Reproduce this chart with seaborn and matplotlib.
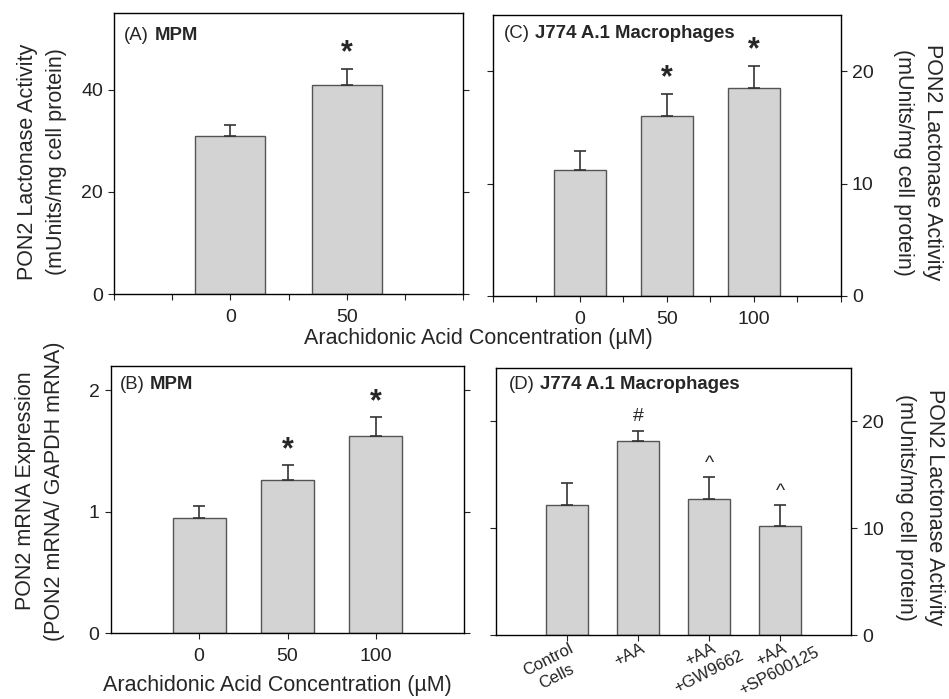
import matplotlib
matplotlib.use("Agg")
import matplotlib.pyplot as plt
import matplotlib.transforms as mtrans
import seaborn as sns
import numpy as np
import pandas as pd

# ---- data ----
a_labels = ["0", "50"]
a_values = [31.0, 41.0]
a_err = [2.0, 3.1]
a_marks = ["", "*"]

c_labels = ["0", "50", "100"]
c_values = [11.2, 16.0, 18.5]
c_err = [1.7, 2.0, 2.0]
c_marks = ["", "*", "*"]

b_labels = ["0", "50", "100"]
b_values = [0.95, 1.26, 1.62]
b_err = [0.095, 0.12, 0.16]
b_marks = ["", "*", "*"]

d_labels = ["Control\nCells", "+AA", "+AA\n+GW9662", "+AA\n+SP600125"]
d_values = [12.2, 18.1, 12.75, 10.15]
d_err = [2.0, 1.0, 2.0, 2.0]
d_marks = ["", "#", "^", "^"]

sns.set_style("ticks")
plt.rcParams["font.family"] = ["Liberation Sans", "DejaVu Sans"]
plt.rcParams["axes.linewidth"] = 1.0
plt.rcParams["xtick.major.size"] = 4.5
plt.rcParams["ytick.major.size"] = 4.5
plt.rcParams["xtick.color"] = "#222222"
plt.rcParams["ytick.color"] = "#222222"

W, H = 949, 699
DPI = 100
fig = plt.figure(figsize=(W / DPI, H / DPI), dpi=DPI)

def frac(l, t, r, b):
    return [l / W, 1 - b / H, (r - l) / W, (b - t) / H]

BAR = "#d3d3d3"
EDGE = "#555555"
ERR = "#333333"
TICK_FS = 14
LAB_FS = 15.5
TITLE_FS = 13.4

def panel(rect, labels, values, errs, marks, ylim, yticks, xlim, xticks, ticklabels,
          letter, name, title_off, side):
    ax = fig.add_axes(rect)
    df = pd.DataFrame({"cat": labels, "val": values})
    sns.barplot(data=df, x="cat", y="val", order=labels, ax=ax, color=BAR,
                edgecolor=EDGE, linewidth=1.0, width=0.6, saturation=1)
    x = np.arange(len(labels))
    ax.errorbar(x, values, yerr=[np.zeros(len(errs)), errs], fmt="none",
                ecolor=ERR, elinewidth=1.2, capsize=4.5, capthick=1.2)
    for xi, v, e, m in zip(x, values, errs, marks):
        if m:
            top = v + e
            if m == "*":
                ax.annotate(m, (xi, top), xytext=(0, 0), textcoords="offset points",
                            ha="center", va="bottom", fontsize=22, fontweight="bold")
            else:
                ax.annotate(m, (xi, top), xytext=(0, 4), textcoords="offset points",
                            ha="center", va="bottom", fontsize=14)
    ax.set_xlim(*xlim)
    ax.set_ylim(*ylim)
    ax.set_yticks(yticks)
    ax.set_xticks(xticks)
    ax.set_xticklabels(ticklabels, fontsize=TICK_FS)
    ax.set_yticklabels([str(t) for t in yticks], fontsize=TICK_FS)
    ax.set_xlabel("")
    ax.set_ylabel("")
    for s in ax.spines.values():
        s.set_visible(True)
        s.set_color("black")
    if side == "left":
        ax.tick_params(axis="y", left=True, right=True, labelleft=True, labelright=False,
                       direction="out")
    else:
        ax.tick_params(axis="y", left=True, right=True, labelleft=False, labelright=True,
                       direction="out")
    ax.tick_params(axis="x", direction="out", pad=6)
    t = ax.annotate(f"({letter})", xy=(0, 1), xycoords="axes fraction",
                    xytext=(title_off[0], -title_off[1]), textcoords="offset pixels",
                    ha="left", va="center", fontsize=TITLE_FS)
    ax.annotate(name, xy=(1, 0.5), xycoords=t, xytext=(4, 0), textcoords="offset points",
                ha="left", va="center", fontsize=TITLE_FS, fontweight="bold")
    return ax

axA = panel(frac(114, 13, 463, 294), a_labels, a_values, a_err, a_marks,
            (0, 55), [0, 20, 40], (-1, 2), [-1, -0.5, 0, 0.5, 1, 1.5, 2],
            ["", "", "0", "", "50", "", ""], "A", "MPM", (10, 23), "left")

axC = panel(frac(492.7, 15, 840.7, 296), c_labels, c_values, c_err, c_marks,
            (0, 25), [0, 10, 20], (-1, 3), [-1, -0.5, 0, 0.5, 1, 1.5, 2, 2.5, 3],
            ["", "", "0", "", "50", "", "100", "", ""], "C", "J774 A.1 Macrophages",
            (11, 18), "right")

axB = panel(frac(110.7, 365.7, 464.3, 633.3), b_labels, b_values, b_err, b_marks,
            (0, 2.2), [0, 1, 2], (-1, 3), [0, 1, 2],
            ["0", "50", "100"], "B", "MPM", (9, 19), "left")

axD = panel(frac(496, 367.7, 851, 635), d_labels, d_values, d_err, d_marks,
            (0, 25), [0, 10, 20], (-1, 4), [0, 1, 2, 3],
            ["", "", "", ""], "D", "J774 A.1 Macrophages", (13, 17), "right")

# rotated category labels for D: first line's top-right corner sits at the tick
ROT = 27
DFS = 12
renderer = fig.canvas.get_renderer()
th = np.deg2rad(ROT)
for xi, lab in enumerate(d_labels):
    first = lab.split("\n")[0]
    tmp = fig.text(0, 0, first, fontsize=DFS)
    w1 = tmp.get_window_extent(renderer).width
    tmp.remove()
    dx = -w1 / 2 * np.cos(th) + 2
    dy = -w1 / 2 * np.sin(th) - 6
    off = mtrans.ScaledTranslation(dx / DPI, dy / DPI, fig.dpi_scale_trans)
    axD.text(xi, 0, lab, transform=axD.get_xaxis_transform() + off,
             rotation=ROT, rotation_mode="anchor", ha="center", va="top",
             multialignment="center", fontsize=DFS, linespacing=1.3,
             color="#222222")

# axis titles
kw = dict(ha="center", va="center", multialignment="center", fontsize=LAB_FS,
          linespacing=1.45)
fig.text(42 / W, 1 - 162 / H, "PON2 Lactonase Activity\n(mUnits/mg cell protein)",
         rotation=90, **kw)
fig.text(918 / W, 1 - 162 / H, "PON2 Lactonase Activity\n(mUnits/mg cell protein)",
         rotation=270, **kw)
fig.text(40 / W, 1 - 491 / H, "PON2 mRNA Expression\n(PON2 mRNA/ GAPDH mRNA)",
         rotation=90, **kw)
fig.text(920 / W, 1 - 507 / H, "PON2 Lactonase Activity\n(mUnits/mg cell protein)",
         rotation=270, **kw)
fig.text(478 / W, 1 - 338 / H, "Arachidonic Acid Concentration (\u00b5M)",
         ha="center", va="center", fontsize=LAB_FS)
fig.text(277 / W, 1 - 686 / H, "Arachidonic Acid Concentration (\u00b5M)",
         ha="center", va="center", fontsize=LAB_FS)

fig.savefig("out.png", dpi=DPI)
